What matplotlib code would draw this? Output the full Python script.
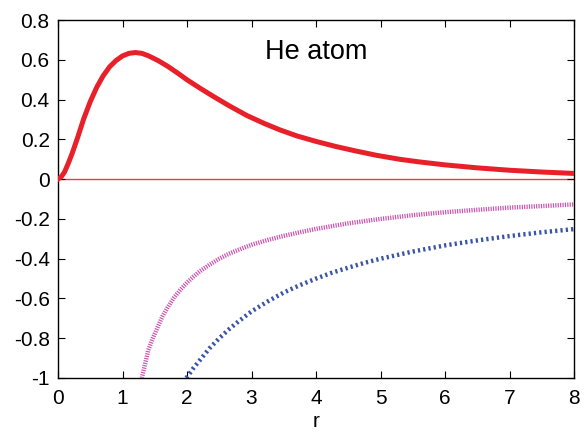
import matplotlib
matplotlib.use("Agg")
import matplotlib.pyplot as plt

plt.rcParams['font.family'] = ['Liberation Sans', 'DejaVu Sans']

# radial density (red)
r_dens = [0.0, 0.05, 0.1, 0.16, 0.22, 0.3, 0.4, 0.5, 0.6, 0.7, 0.8, 0.9, 1.0,
          1.1, 1.2, 1.3, 1.4, 1.55, 1.7, 1.85, 2.0, 2.2, 2.4, 2.65, 2.93, 3.2,
          3.44, 3.7, 4.0, 4.3, 4.6, 4.94, 5.3, 5.6, 6.0, 6.5, 7.0, 7.5, 8.0]
dens = [0.0, 0.012, 0.035, 0.08, 0.13, 0.205, 0.305, 0.39, 0.462, 0.52, 0.565,
        0.597, 0.62, 0.633, 0.637, 0.633, 0.621, 0.597, 0.568, 0.535, 0.50, 0.458,
        0.418, 0.37, 0.32, 0.28, 0.248, 0.218, 0.19, 0.165, 0.143, 0.12, 0.10,
        0.087, 0.072, 0.057, 0.045, 0.036, 0.029]

# magenta potential
r_mag = [1.30, 1.35, 1.40, 1.47, 1.55, 1.62, 1.70, 1.80, 1.90, 2.0, 2.1, 2.2,
         2.35, 2.5, 2.65, 2.8, 3.0, 3.25, 3.5, 3.75, 4.0, 4.5, 5.0, 5.5, 6.0,
         6.5, 7.0, 7.5, 8.0]
v_mag = [-1.0, -0.93, -0.86, -0.80, -0.74, -0.69, -0.645, -0.595, -0.555, -0.52,
         -0.49, -0.463, -0.43, -0.40, -0.375, -0.355, -0.33, -0.306, -0.285,
         -0.267, -0.25, -0.222, -0.20, -0.181, -0.166, -0.154, -0.143, -0.135,
         -0.127]

# blue potential
r_blue = [1.99, 2.1, 2.2, 2.35, 2.5, 2.65, 2.8, 3.0, 3.25, 3.5, 3.75, 4.0, 4.25,
          4.5, 4.75, 5.0, 5.5, 6.0, 6.5, 7.0, 7.5, 8.0]
v_blue = [-1.0, -0.95, -0.91, -0.85, -0.80, -0.755, -0.715, -0.665, -0.615,
          -0.57, -0.533, -0.5, -0.47, -0.445, -0.421, -0.40, -0.364, -0.333,
          -0.308, -0.286, -0.267, -0.251]

xticks = [0, 1, 2, 3, 4, 5, 6, 7, 8]
yticks = [-1, -0.8, -0.6, -0.4, -0.2, 0, 0.2, 0.4, 0.6, 0.8]
ylabels = ['-1', '-0.8', '-0.6', '-0.4', '-0.2', '0', '0.2', '0.4', '0.6', '0.8']

fig = plt.figure(figsize=(5.84, 4.38), dpi=100)
ax = fig.add_axes([0.0993, 0.137, 0.8837, 0.817])

ax.axhline(0, color='#f03a3a', lw=1.0, zorder=1)
ax.plot(r_blue, v_blue, color='#3a55a8', lw=3.2, linestyle=(0, (0.5, 0.7)),
        dash_capstyle='butt', zorder=2)
ax.plot(r_mag, v_mag, color='#cc55b0', lw=3.2, linestyle=(0, (0.27, 0.27)),
        dash_capstyle='butt', zorder=3)
ax.plot(r_dens, dens, color='#e8202a', lw=3.6, zorder=4)

ax.text(4.0, 0.64, 'He atom', fontsize=19.5, ha='center', va='center')

ax.set_xlim(0, 8)
ax.set_ylim(-1, 0.8)
ax.set_xticks(xticks)
ax.set_xticklabels([str(t) for t in xticks])
ax.set_yticks(yticks)
ax.set_yticklabels(ylabels)
ax.tick_params(direction='in', length=5, width=0.8, labelsize=15,
               top=True, right=True)
ax.tick_params(axis='x', pad=8)
ax.tick_params(axis='y', pad=6)
ax.set_xlabel('r', fontsize=15, labelpad=3)
for s in ax.spines.values():
    s.set_linewidth(1.0)

plt.savefig('out.png', dpi=100)
